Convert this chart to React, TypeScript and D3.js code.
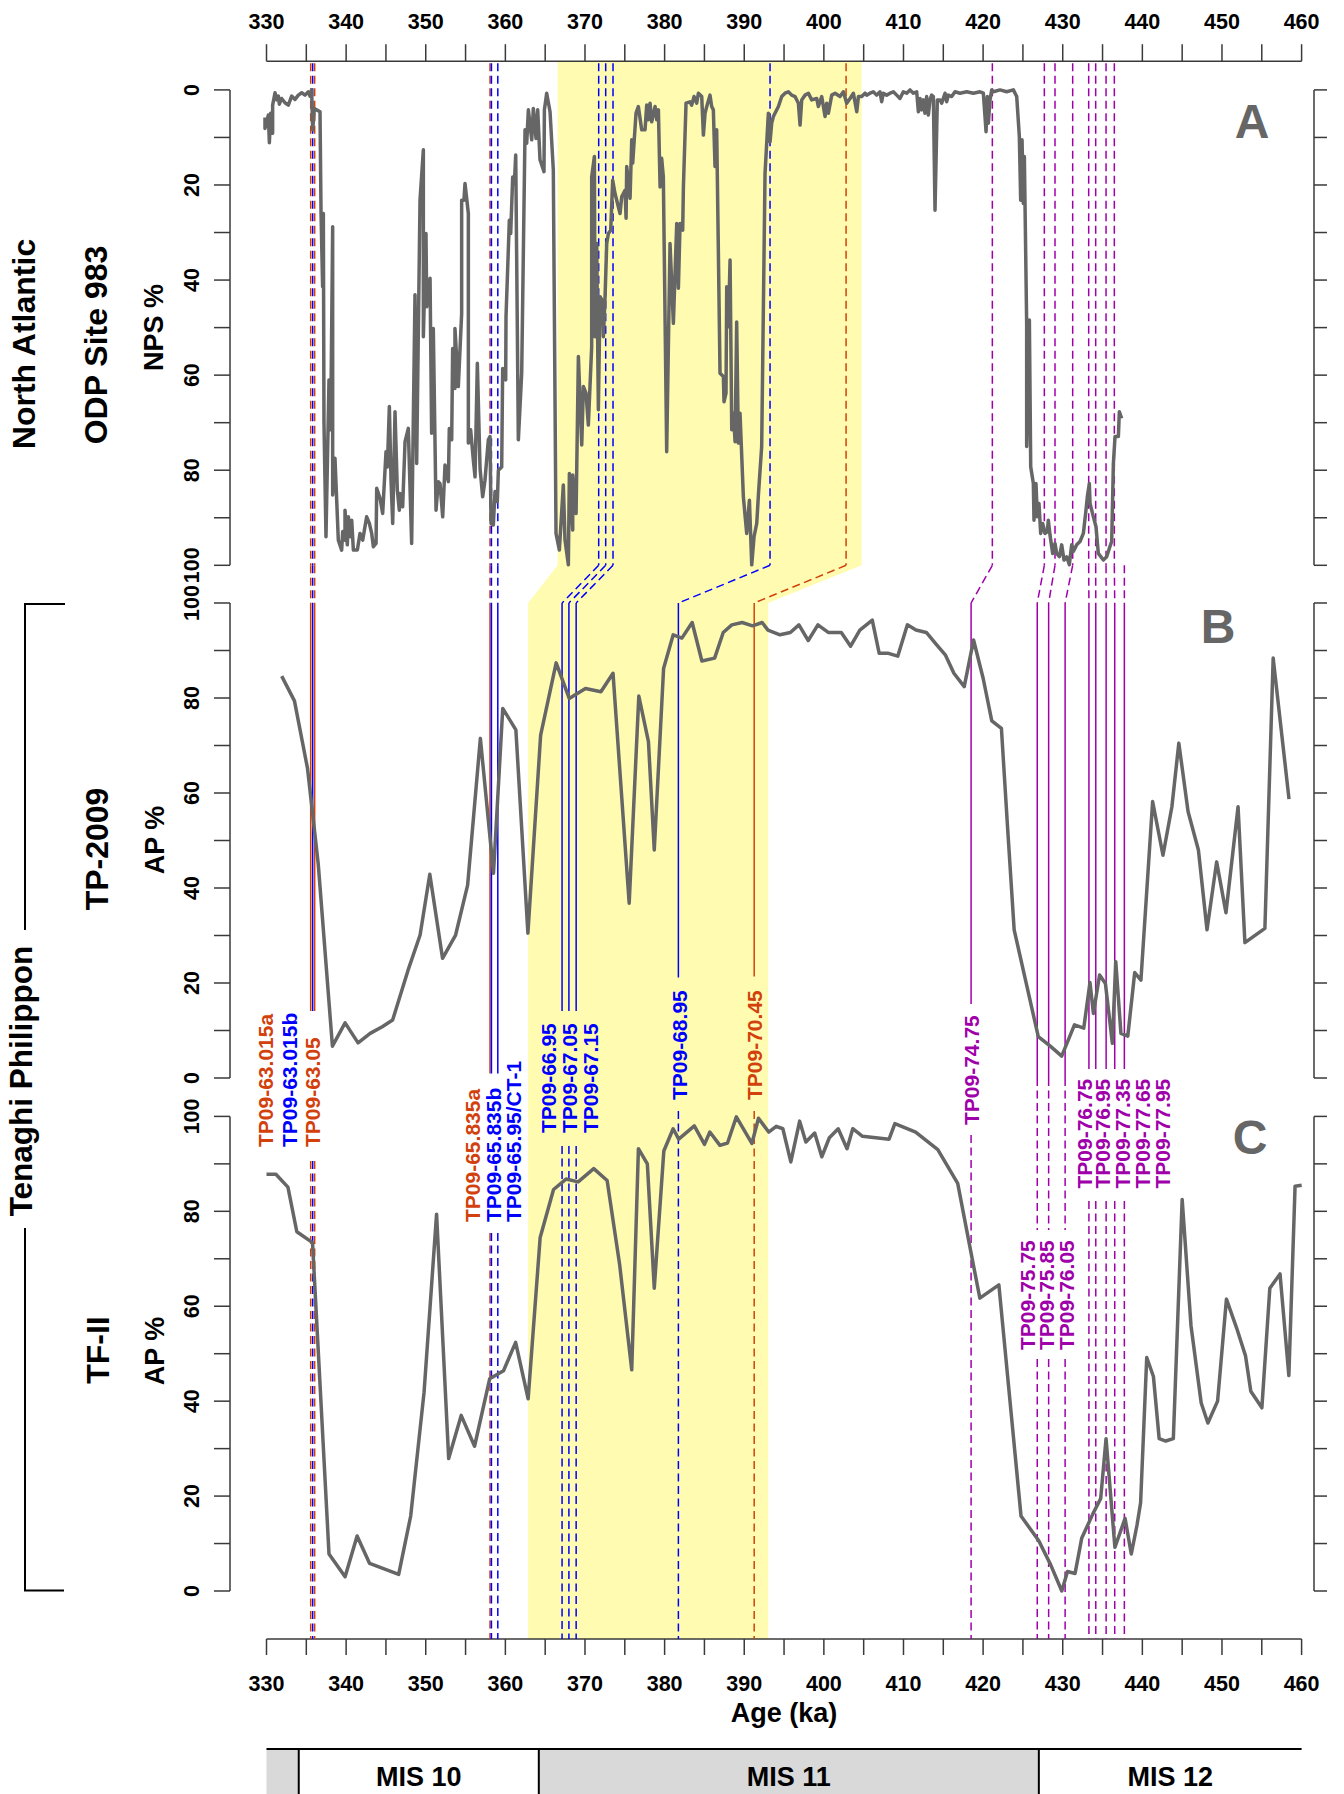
import React from "react";
import * as d3 from "d3";

// ODP Site 983, NPS % (age, value) – plotted on the upper age scale
const npsRecord: [number, number][] = [
  [329.81, 5.8], [329.81, 8.1], [330.23, 5.3], [330.36, 11.1], [330.52, 4.9], [330.77, 9.1], [330.77, 3.2], [331.07, 0.6],
  [331.28, 2.1], [331.49, 1.3], [331.61, 3.0], [331.9, 1.8], [332.32, 2.7], [332.74, 3.2], [333.16, 1.3], [333.58, 2.0],
  [334.0, 1.1], [334.42, 0.6], [334.84, 1.1], [335.25, 0.4], [335.46, 1.3], [335.67, 0.0], [335.8, 8.4], [336.01, 3.9],
  [336.3, 4.2], [336.72, 4.6], [336.85, 26.0], [337.05, 41.4], [337.14, 26.0], [337.22, 70.1], [337.47, 94.0], [337.85, 61.0],
  [338.06, 71.5], [338.31, 28.8], [338.31, 85.2], [338.6, 77.5], [339.02, 94.7], [339.44, 96.8], [339.57, 92.9], [339.86, 94.7],
  [339.86, 88.4], [340.15, 95.7], [340.28, 89.8], [340.57, 94.0], [340.7, 90.5], [340.91, 96.8], [341.41, 96.8], [341.74, 93.3],
  [342.08, 94.7], [342.58, 89.8], [342.92, 91.2], [343.21, 93.3], [343.42, 96.1], [343.76, 95.4], [343.84, 83.8], [344.26, 85.9],
  [344.59, 89.1], [345.01, 76.1], [345.18, 79.3], [345.43, 66.6], [345.64, 82.1], [345.85, 91.2], [346.14, 67.7], [346.43, 84.2],
  [346.68, 88.4], [346.77, 84.9], [347.1, 87.7], [347.4, 74.0], [347.81, 71.2], [348.23, 95.4], [348.65, 43.1], [348.86, 78.6],
  [349.28, 23.2], [349.7, 12.6], [349.7, 51.9], [350.03, 30.2], [350.12, 45.6], [350.54, 39.6], [350.74, 72.2], [350.95, 50.2],
  [351.29, 88.4], [351.58, 82.4], [351.79, 82.8], [352.13, 89.8], [352.42, 78.9], [352.84, 82.4], [352.96, 71.2], [353.26, 73.6],
  [353.38, 54.4], [353.67, 62.8], [353.67, 50.2], [354.09, 62.4], [354.51, 47.0], [354.51, 23.2], [354.8, 23.2], [354.93, 19.7],
  [355.35, 26.0], [355.35, 74.3], [355.64, 71.5], [355.98, 77.9], [356.19, 81.4], [356.48, 57.5], [356.82, 79.6], [357.15, 85.6],
  [357.44, 82.1], [357.86, 73.6], [358.07, 72.9], [358.2, 91.2], [358.49, 91.5], [358.7, 84.5], [358.99, 86.6], [359.12, 80.0],
  [359.54, 79.3], [359.66, 58.6], [360.04, 61.0], [360.08, 47.7], [360.5, 27.4], [360.67, 30.2], [360.92, 18.3], [361.13, 19.7],
  [361.3, 13.7], [361.63, 73.6], [362.05, 59.6], [362.47, 8.4], [362.68, 11.2], [362.89, 4.2], [363.31, 10.5], [363.51, 3.9],
  [363.85, 10.2], [364.06, 4.2], [364.35, 14.7], [364.85, 17.2], [364.9, 4.2], [365.19, 0.7], [365.61, 4.6], [366.02, 16.8],
  [366.36, 93.3], [366.78, 96.8], [367.28, 83.1], [367.49, 94.7], [367.91, 99.9], [368.04, 80.7], [368.46, 92.6], [368.46, 81.0],
  [368.88, 89.1], [369.17, 56.1], [369.59, 74.7], [369.8, 62.4], [370.13, 63.8], [370.42, 70.5], [370.84, 54.0], [370.84, 18.3],
  [371.18, 14.0], [371.26, 51.9], [371.47, 32.3], [371.68, 67.3], [371.89, 43.5], [372.22, 44.5], [372.31, 51.9], [372.52, 43.5],
  [372.73, 32.3], [372.94, 30.2], [373.23, 29.5], [373.48, 19.0], [373.77, 21.8], [374.4, 26.0], [374.61, 22.5], [375.03, 21.1],
  [375.16, 27.0], [375.24, 16.1], [375.66, 22.8], [375.87, 10.5], [375.99, 15.4], [376.41, 4.9], [376.7, 3.5], [377.12, 8.4],
  [377.54, 8.4], [377.75, 3.2], [377.96, 6.3], [378.17, 2.8], [378.38, 6.7], [378.8, 3.5], [379.01, 6.3], [379.22, 4.2],
  [379.43, 20.4], [379.63, 14.4], [379.84, 18.3], [380.26, 76.1], [380.68, 32.3], [381.1, 49.1], [381.52, 28.1], [381.73, 41.7],
  [381.94, 28.1], [382.27, 29.5], [382.36, 20.4], [382.57, 9.1], [382.69, 2.8], [383.19, 2.5], [383.4, 3.2], [383.7, 1.4],
  [384.03, 2.8], [384.24, 0.7], [384.66, 1.4], [384.87, 9.5], [385.08, 4.9], [385.29, 3.5], [385.7, 1.1], [385.91, 3.5],
  [386.12, 4.2], [386.33, 16.1], [386.54, 8.4], [386.96, 59.6], [387.38, 60.3], [387.46, 65.6], [387.71, 63.8], [387.8, 41.4],
  [388.01, 49.8], [388.22, 35.8], [388.43, 71.5], [388.64, 68.0], [388.85, 74.0], [389.05, 48.8], [389.26, 74.3], [389.47, 68.0],
  [389.89, 85.6], [390.31, 93.3], [390.65, 86.3], [390.94, 99.9], [391.23, 94.0], [391.57, 91.2], [391.78, 85.2], [392.19, 75.0],
  [392.61, 17.6], [393.03, 4.9], [393.24, 10.9], [393.45, 7.0], [393.66, 5.6], [394.29, 3.5], [394.71, 1.4], [395.12, 0.7],
  [395.54, 0.4], [395.96, 1.1], [396.38, 1.4], [396.8, 2.8], [397.01, 7.4], [397.22, 2.1], [397.64, 1.1], [398.06, 0.7],
  [398.47, 2.1], [399.1, 1.8], [399.31, 3.5], [399.73, 1.4], [400.15, 5.6], [400.36, 2.8], [400.57, 4.9], [400.99, 1.1],
  [401.41, 0.7], [402.03, 1.4], [402.45, 0.4], [402.87, 2.8], [403.29, 1.8], [403.71, 0.7], [404.13, 4.6], [404.34, 1.4],
  [404.75, 1.4], [405.17, 0.7], [405.38, 1.1], [405.8, 0.7], [406.21, 0.4], [406.63, 1.1], [407.05, 0.4], [407.26, 2.5],
  [407.47, 0.7], [407.89, 1.1], [408.31, 0.7], [408.73, 0.4], [409.15, 1.1], [409.56, 1.8], [409.98, 0.4], [410.4, 0.7],
  [410.82, 0.0], [411.24, 0.7], [411.66, 0.4], [411.87, 4.6], [412.08, 1.8], [412.29, 4.2], [412.5, 2.1], [412.7, 4.9],
  [412.91, 1.4], [413.12, 5.3], [413.33, 2.1], [413.54, 1.1], [413.75, 1.4], [413.96, 25.3], [414.25, 2.1], [414.59, 2.1],
  [414.8, 2.8], [415.22, 0.7], [415.42, 2.5], [415.63, 1.1], [416.05, 1.4], [416.47, 0.4], [417.1, 0.7], [417.94, 0.4],
  [418.77, 0.7], [419.61, 0.4], [420.03, 0.7], [420.37, 8.8], [420.53, 1.4], [420.66, 7.0], [420.87, 2.1], [421.08, 0.0],
  [421.29, 0.4], [422.12, 0.0], [422.96, 0.4], [423.8, 0.0], [424.22, 1.4], [424.55, 9.8], [424.72, 23.2], [424.89, 10.5],
  [425.05, 23.9], [425.18, 14.0], [425.47, 49.1], [425.47, 75.0], [425.81, 48.4], [425.98, 79.3], [426.31, 82.8], [426.39, 90.5],
  [426.64, 82.8], [426.81, 89.8], [427.02, 87.0], [427.23, 93.3], [427.48, 91.2], [427.78, 93.3], [428.07, 92.9], [428.19, 90.5],
  [428.4, 93.6], [428.74, 97.5], [429.03, 95.4], [429.24, 97.5], [429.58, 98.2], [429.87, 95.7], [430.16, 98.9], [430.5, 98.2],
  [430.83, 99.9], [431.12, 95.7], [431.33, 97.1], [431.75, 95.7], [432.17, 95.0], [432.59, 93.3], [432.92, 88.4], [433.09, 85.6],
  [433.34, 82.8], [433.43, 87.0], [433.85, 89.8], [434.18, 91.9], [434.47, 97.5], [435.1, 98.9], [435.52, 98.2], [435.86, 96.4],
  [436.15, 95.0], [436.36, 78.6], [436.57, 72.9], [436.99, 72.9], [437.11, 67.7], [437.4, 69.1],
];

// TP-2009 arboreal pollen % (age, value)
const tp2009Record: [number, number][] = [
  [331.91, 84.6], [333.51, 79.4], [335.15, 65.2], [336.5, 45], [338.28, 6.7], [339.87, 11.6], [341.5, 7.4], [343.02, 9.4],
  [344.54, 10.8], [345.84, 12.2], [347.78, 22.7], [349.29, 30.1], [350.51, 42.9], [352.11, 25.2], [353.75, 30.1], [355.26, 40.6],
  [356.86, 71.5], [358.51, 43.1], [359.67, 77.8], [361.32, 73.3], [362.83, 30.5], [364.43, 72.2], [366.38, 87.4], [368.02, 79.9],
  [370.06, 82.0], [372.0, 81.3], [373.52, 85.2], [375.55, 36.8], [376.76, 80.4], [377.97, 70.8], [378.7, 48.0], [379.87, 86.2],
  [381.08, 93.3], [382.17, 92.6], [383.46, 95.9], [384.68, 87.8], [386.28, 88.4], [387.36, 93.8], [388.44, 95.4], [389.74, 95.9],
  [391.04, 95.2], [392.25, 95.9], [392.98, 94.3], [394.49, 93.3], [395.79, 93.8], [396.87, 95.4], [398.04, 92.1], [399.25, 95.4],
  [400.55, 93.8], [402.19, 93.8], [403.36, 90.9], [404.52, 94.3], [406.08, 96.4], [406.95, 89.4], [408.11, 89.4], [409.28, 88.8],
  [410.49, 95.4], [411.57, 94.3], [412.87, 93.8], [414.17, 91.2], [415.25, 89.1], [416.33, 85.2], [417.63, 82.4], [418.8, 92.2],
  [420.01, 84.1], [421.09, 75.2], [422.3, 73.6], [423.04, 53.6], [423.9, 31.2], [425.42, 19.9], [426.93, 8.7], [428.44, 6.7],
  [429.87, 4.6], [431.47, 11.2], [432.64, 10.5], [433.42, 20.1], [433.85, 13.6], [434.63, 21.7], [435.36, 19.9], [436.23, 7.3],
  [436.66, 24.5], [437.31, 9.4], [438.17, 8.8], [439.04, 22.2], [439.82, 20.6], [441.29, 58.2], [442.59, 46.9], [443.71, 57.1],
  [444.58, 70.5], [445.74, 56.1], [447.04, 48.0], [448.12, 31.2], [449.33, 45.5], [450.5, 34.8], [452.02, 57.1], [452.88, 28.5],
  [455.39, 31.5], [456.43, 88.4], [458.42, 58.7],
];

// TF-II arboreal pollen % (age, value)
const tf2Record: [number, number][] = [
  [330.0, 87.8], [331.18, 87.8], [332.69, 85.1], [333.81, 75.7], [335.78, 73.4], [337.85, 7.8], [339.87, 3.0], [341.38, 11.6],
  [342.95, 5.8], [346.6, 3.5], [348.11, 15.8], [349.79, 41.9], [351.36, 79.4], [352.88, 27.9], [354.45, 37.0], [356.13, 30.5],
  [358.03, 44.7], [359.77, 46.4], [361.29, 52.4], [362.86, 40.5], [364.37, 74.5], [366.05, 84.6], [367.62, 86.8], [369.14, 86.2],
  [371.1, 89.0], [372.78, 86.5], [374.35, 68.8], [375.87, 46.6], [376.71, 93.2], [377.83, 90.0], [378.7, 63.8], [379.9, 92.7],
  [381.07, 97.4], [381.77, 95.2], [383.73, 98.0], [385.01, 94.1], [385.68, 96.7], [386.95, 93.9], [387.9, 94.4], [389.01, 99.9],
  [390.96, 94.3], [391.79, 99.6], [393.07, 96.7], [394.02, 97.9], [394.85, 97.4], [395.85, 90.4], [396.96, 99.0], [397.74, 94.6],
  [398.85, 96.5], [399.74, 91.5], [400.69, 95.5], [401.8, 97.4], [402.91, 93.2], [403.63, 97.4], [404.86, 95.8], [408.19, 95.2],
  [408.92, 98.5], [411.53, 96.7], [414.31, 93.0], [416.81, 85.9], [418.48, 71.3], [419.59, 61.7], [421.98, 64.5], [424.76, 15.8],
  [426.99, 10.6], [428.49, 5.5], [429.88, 0.0], [430.6, 4.1], [431.55, 3.7], [432.38, 11.1], [433.77, 16.2], [434.77, 19.5],
  [435.44, 32.1], [436.55, 9.2], [437.83, 15.3], [438.61, 7.8], [439.33, 13.9], [439.78, 18.6], [440.55, 49.2], [441.39, 45.2],
  [442.11, 32.1], [442.94, 31.6], [443.89, 32.1], [445.0, 82.5], [446.11, 55.9], [447.39, 39.6], [448.23, 35.4], [449.45, 40.0],
  [450.56, 61.5], [451.84, 55.4], [452.95, 49.6], [453.62, 42.1], [455.01, 38.6], [456.01, 63.8], [457.29, 66.8], [458.4, 45.4],
  [459.18, 85.3], [460.01, 85.5],
];

// tephra tie points
const tephraNames = [
  "TP09-63.015a", "TP09-63.015b", "TP09-63.05", "TP09-65.835a", "TP09-65.835b", "TP09-65.95/CT-1",
  "TP09-66.95", "TP09-67.05", "TP09-67.15", "TP09-68.95", "TP09-70.45", "TP09-74.75",
  "TP09-75.75", "TP09-75.85", "TP09-76.05", "TP09-76.75", "TP09-76.95", "TP09-77.35", "TP09-77.65", "TP09-77.95",
];
const tephraKind = ["r", "b", "r", "r", "b", "b", "b", "b", "b", "b", "r", "p", "p", "p", "p", "p", "p", "p", "p", "p"];
const tephraAgeA = [335.55, 335.8, 336.05, 358.07, 358.25, 359.05, 371.72, 372.6, 373.52, 393.24, 402.79, 421.16,
  427.69, 429.03, 431.25, 433.26, 434.14, 435.44, 436.48, 437.74];
const tephraAgeB = [335.55, 335.8, 336.05, 358.07, 358.25, 359.05, 367.12, 367.98, 368.89, 381.73, 391.25, 418.49,
  426.8, 428.23, 430.3, 433.29, 434.15, 435.45, 436.53, 437.74];

// shaded interval: upper scale / lower scale
const shadeA = [366.55, 404.75];
const shadeB = [362.85, 393.0];

const misNames = ["", "MIS 10", "MIS 11", "MIS 12"];
const misBounds = [330, 334.05, 364.2, 427.0, 460];

const ageTicks = d3.range(330, 461, 5);
const pctTicks = d3.range(0, 101, 10);

const FONT = "'Liberation Sans', Arial, Helvetica, sans-serif";
const kindColor: Record<string, string> = { r: "#d2400c", b: "#0000ff", p: "#a000aa" };

// label / segment layout for each tie line
const tephraLayout = [
  { solidEnd: 1011, lx: 273, ly: 1147, dash: [[1161, 1639]] },
  { solidEnd: 1011, lx: 297, ly: 1147, dash: [[1161, 1639]] },
  { solidEnd: 1011, lx: 320, ly: 1147, dash: [[1161, 1639]] },
  { solidEnd: 1073.6, lx: 480, ly: 1222, dash: [[1233, 1639]] },
  { solidEnd: 1073.6, lx: 501, ly: 1222, dash: [[1233, 1639]] },
  { solidEnd: 1073.6, lx: 521, ly: 1222, dash: [[1233, 1639]] },
  { solidEnd: 1011, lx: 556, ly: 1133, dash: [[1146, 1639]] },
  { solidEnd: 1011, lx: 577, ly: 1133, dash: [[1146, 1639]] },
  { solidEnd: 1011, lx: 597.5, ly: 1133, dash: [[1146, 1639]] },
  { solidEnd: 977.5, lx: 687, ly: 1100, dash: [[1111, 1639]] },
  { solidEnd: 976.5, lx: 762, ly: 1100, dash: [[1111, 1639]] },
  { solidEnd: 1004, lx: 979, ly: 1125, dash: [[1135, 1639]] },
  { solidEnd: 1078, lx: 1035, ly: 1350, dash: [[1078, 1230], [1359, 1639]] },
  { solidEnd: 1078, lx: 1054, ly: 1350, dash: [[1078, 1230], [1359, 1639]] },
  { solidEnd: 1078, lx: 1074, ly: 1350, dash: [[1078, 1230], [1359, 1639]] },
  { solidEnd: 1069, lx: 1092, ly: 1188.5, dash: [[1201, 1639]] },
  { solidEnd: 1069, lx: 1110, ly: 1188.5, dash: [[1201, 1639]] },
  { solidEnd: 1069, lx: 1130, ly: 1188.5, dash: [[1201, 1639]] },
  { solidEnd: 1069, lx: 1150, ly: 1188.5, dash: [[1201, 1639]] },
  { solidEnd: 1069, lx: 1170, ly: 1188.5, dash: [[1201, 1639]], noA: true },
];

const W = 1344;
const H = 1794;
const TOP_AXIS_Y = 61.2;
const BOTTOM_AXIS_Y = 1639;
const LEFT_AXIS_X = 230;
const RIGHT_AXIS_X = 1314;
const AXIS_COL = "#3a3a3a";
const DASH = "8 4.5";
const TICK_FS = 21.5;
const LABEL_FS = 21;

function YAxis({ scale }: { scale: d3.ScaleLinear<number, number> }) {
  const [y0, y1] = scale.range();
  return (
    <g>
      <line x1={LEFT_AXIS_X} x2={LEFT_AXIS_X} y1={y0} y2={y1} stroke={AXIS_COL} strokeWidth={1.5} />
      {pctTicks.map((t) => (
        <line key={t} x1={LEFT_AXIS_X - 16} x2={LEFT_AXIS_X} y1={scale(t)} y2={scale(t)} stroke={AXIS_COL} strokeWidth={1.5} />
      ))}
      {pctTicks.filter((t) => t % 20 === 0).map((t) => (
        <text key={t} transform={`translate(199,${scale(t)}) rotate(-90)`} textAnchor="middle"
          fontSize={TICK_FS} fontWeight="bold" fill="#000">{t}</text>
      ))}
      <line x1={RIGHT_AXIS_X} x2={RIGHT_AXIS_X} y1={y0} y2={y1} stroke={AXIS_COL} strokeWidth={1.5} />
      {pctTicks.map((t) => (
        <line key={"r" + t} x1={RIGHT_AXIS_X} x2={RIGHT_AXIS_X + 13} y1={scale(t)} y2={scale(t)} stroke={AXIS_COL} strokeWidth={1.5} />
      ))}
    </g>
  );
}

function VText({ x, y, size, children, anchor = "middle" }: any) {
  return (
    <text transform={`translate(${x},${y}) rotate(-90)`} textAnchor={anchor} fontSize={size} fontWeight="bold" fill="#000">
      {children}
    </text>
  );
}

export default function App() {
  const x = d3.scaleLinear().domain([330, 460]).range([266.5, 1301.6]);
  const yA = d3.scaleLinear().domain([0, 100]).range([89.9, 565.3]);
  const yB = d3.scaleLinear().domain([0, 100]).range([1078, 603]);
  const yC = d3.scaleLinear().domain([0, 100]).range([1591, 1116.4]);

  const aBottom = yA(100);
  const bTop = yB(100);

  const lineA = d3.line<[number, number]>().x((d) => x(d[0])).y((d) => yA(d[1]));
  const lineB = d3.line<[number, number]>().x((d) => x(d[0])).y((d) => yB(d[1]));
  const lineC = d3.line<[number, number]>().x((d) => x(d[0])).y((d) => yC(d[1]));

  const shade = [
    [x(shadeA[0]), TOP_AXIS_Y], [x(shadeA[1]), TOP_AXIS_Y], [x(shadeA[1]), aBottom],
    [x(shadeB[1]), bTop], [x(shadeB[1]), BOTTOM_AXIS_Y], [x(shadeB[0]), BOTTOM_AXIS_Y],
    [x(shadeB[0]), bTop], [x(shadeA[0]), aBottom],
  ].map((p) => p.join(",")).join(" ");

  return (
    <div style={{ position: "absolute", left: 0, top: 0, width: W, height: H, background: "#fff" }}>
      <svg width={W} height={H} style={{ display: "block" }} fontFamily={FONT}>
        <polygon points={shade} fill="#fffcb2" />

        {/* top age axis */}
        <line x1={x(330)} x2={x(460)} y1={TOP_AXIS_Y} y2={TOP_AXIS_Y} stroke={AXIS_COL} strokeWidth={1.5} />
        {ageTicks.map((t) => (
          <line key={t} x1={x(t)} x2={x(t)} y1={TOP_AXIS_Y - 17} y2={TOP_AXIS_Y} stroke={AXIS_COL} strokeWidth={1.5} />
        ))}
        {ageTicks.filter((t) => t % 10 === 0).map((t) => (
          <text key={t} x={x(t)} y={29} textAnchor="middle" fontSize={TICK_FS} fontWeight="bold">{t}</text>
        ))}

        {/* bottom age axis */}
        <line x1={x(330)} x2={x(460)} y1={BOTTOM_AXIS_Y} y2={BOTTOM_AXIS_Y} stroke={AXIS_COL} strokeWidth={1.5} />
        {ageTicks.map((t) => (
          <line key={t} x1={x(t)} x2={x(t)} y1={BOTTOM_AXIS_Y} y2={BOTTOM_AXIS_Y + 16} stroke={AXIS_COL} strokeWidth={1.5} />
        ))}
        {ageTicks.filter((t) => t % 10 === 0).map((t) => (
          <text key={t} x={x(t)} y={1691} textAnchor="middle" fontSize={TICK_FS} fontWeight="bold">{t}</text>
        ))}
        <text x={x(395)} y={1722} textAnchor="middle" fontSize={27} fontWeight="bold">Age (ka)</text>

        {/* MIS bar */}
        {misNames.map((m, i) => (
          <g key={i}>
            <rect x={x(misBounds[i])} y={1749} width={x(misBounds[i + 1]) - x(misBounds[i])} height={60}
              fill={i % 2 === 0 ? "#d9d9d9" : "#fff"} />
            {m && (
              <text x={x((misBounds[i] + misBounds[i + 1]) / 2)} y={1786} textAnchor="middle" fontSize={27} fontWeight="bold">{m}</text>
            )}
          </g>
        ))}
        <line x1={x(330)} x2={x(460)} y1={1749} y2={1749} stroke="#000" strokeWidth={2} />
        {misBounds.slice(1, -1).map((b) => (
          <line key={b} x1={x(b)} x2={x(b)} y1={1749} y2={H} stroke="#000" strokeWidth={2} />
        ))}

        <YAxis scale={yA} />
        <YAxis scale={yB} />
        <YAxis scale={yC} />

        {/* tephra tie lines */}
        {tephraNames.map((name, i) => {
          const L: any = tephraLayout[i];
          const c = kindColor[tephraKind[i]];
          const xa = x(tephraAgeA[i]);
          const xb = x(tephraAgeB[i]);
          return (
            <g key={name} stroke={c} strokeWidth={1.5} fill="none">
              {!L.noA && <line x1={xa} x2={xa} y1={TOP_AXIS_Y + 2} y2={aBottom} strokeDasharray={DASH} />}
              <line x1={xa} x2={xb} y1={aBottom} y2={bTop} strokeDasharray={DASH} />
              <line x1={xb} x2={xb} y1={bTop} y2={L.solidEnd} />
              {L.dash.map(([a, b]: number[], k: number) => (
                <line key={k} x1={xb} x2={xb} y1={a} y2={b} strokeDasharray={DASH} />
              ))}
              <text transform={`translate(${L.lx},${L.ly}) rotate(-90)`} stroke="none" fill={c}
                fontSize={LABEL_FS} fontWeight="bold">{name}</text>
            </g>
          );
        })}

        {/* records */}
        <path d={lineA(npsRecord) || ""} fill="none" stroke="#666" strokeWidth={3.5} strokeLinejoin="round" />
        <path d={lineB(tp2009Record) || ""} fill="none" stroke="#666" strokeWidth={3.5} strokeLinejoin="round" />
        <path d={lineC(tf2Record) || ""} fill="none" stroke="#666" strokeWidth={3.5} strokeLinejoin="round" />

        {/* panel letters */}
        <text x={1252} y={138} textAnchor="middle" fontSize={48} fontWeight="bold" fill="#666">A</text>
        <text x={1218} y={643} textAnchor="middle" fontSize={48} fontWeight="bold" fill="#666">B</text>
        <text x={1250} y={1154} textAnchor="middle" fontSize={48} fontWeight="bold" fill="#666">C</text>

        {/* left titles */}
        <VText x={35} y={344} size={32}>North Atlantic</VText>
        <VText x={107} y={345} size={32}>ODP Site 983</VText>
        <VText x={163} y={(yA(0) + yA(100)) / 2} size={27}>NPS %</VText>
        <VText x={108} y={849} size={32}>TP-2009</VText>
        <VText x={164} y={840} size={27}>AP %</VText>
        <VText x={109} y={1350} size={32}>TF-II</VText>
        <VText x={164} y={1351} size={27}>AP %</VText>
        <VText x={32} y={1081} size={31.5}>Tenaghi Philippon</VText>

        {/* bracket */}
        <g stroke="#000" strokeWidth={2} fill="none">
          <polyline points={`65,604 25,604 25,930`} />
          <polyline points={`25,1228 25,1590.5 64,1590.5`} />
        </g>
      </svg>
    </div>
  );
}
